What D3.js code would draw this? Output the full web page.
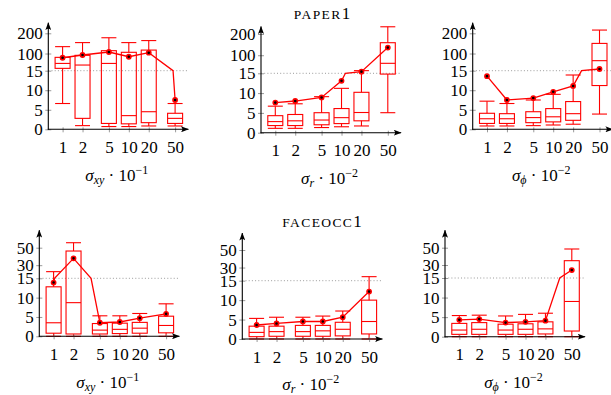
<!DOCTYPE html>
<html>
<head>
<meta charset="utf-8">
<script src="https://cdn.jsdelivr.net/npm/d3@7/dist/d3.min.js"></script>
<style>
  body { margin: 0; background: #fff; }
  svg { display: block; }
  svg text { font-family: "Liberation Serif", "Times New Roman", Times, serif !important; fill: #000; }
</style>
</head>
<body>
<script>
const width = 611;
const height = 395;

// noise levels on the x axis
const xValues = [1, 2, 5, 10, 20, 50];
const topTicks = [0, 5, 10, 15, 100, 200];
const bottomTicks = [0, 5, 10, 15, 30, 50];
const threshold = 15;

// paper1, sigma_xy
const p1Lo = [6.6, 0.94, 0.7, 0.7, 0.85, 0.85];
const p1Q1 = [26.6, 2.8, 1.5, 1.4, 1.7, 1.5];
const p1Med = [51, 43, 51, 3.5, 4.5, 2.8];
const p1Q3 = [81, 91, 114, 106, 117, 4.1];
const p1Hi = [134, 154, 178, 154, 164, 6.6];
const p1Mean = [79, 92.6, 107.5, 84, 104, 7.5];

// paper1, sigma_r
const p2Lo = [1.1, 1.1, 1.3, 1.5, 1.7, 5.05];
const p2Q1 = [1.8, 1.8, 2.0, 2.3, 3.0, 14.8];
const p2Med = [2.8, 3.0, 3.2, 3.8, 5.1, 62];
const p2Q3 = [4.3, 4.6, 5.05, 6.1, 10.2, 159];
const p2Hi = [6.7, 7.3, 9.1, 11.2, 27.5, 234];
const p2Mean = [7.6, 8.0, 8.9, 13.1, 22.8, 136];

// paper1, sigma_phi
const p3Lo = [0.85, 0.85, 0.94, 1.1, 1.3, 3.9];
const p3Q1 = [1.5, 1.5, 1.7, 1.9, 2.3, 11.2];
const p3Med = [2.7, 2.7, 3.0, 3.2, 4.0, 64.6];
const p3Q3 = [4.1, 4.0, 4.5, 5.3, 7.1, 150];
const p3Hi = [7.2, 6.6, 7.5, 8.95, 13.9, 216];
const p3Mean = [13.6, 7.5, 8.0, 9.6, 11.1, 23.3];

// faceocc1, sigma_xy
const f1Lo = [0, 0, 0, 0, 0, 0];
const f1Q1 = [0.8, 0.6, 0.6, 0.7, 0.8, 0.9];
const f1Med = [3.5, 8.7, 1.6, 1.8, 2.1, 2.8];
const f1Q3 = [12.8, 46.2, 3.3, 3.4, 3.6, 5.2];
const f1Hi = [22.6, 55.7, 5.3, 5.3, 5.9, 8.4];
const f1Mean = [13.9, 37.8, 3.5, 3.7, 4.7, 5.8];

// faceocc1, sigma_r
const f2Lo = [0, 0, 0, 0, 0, 0];
const f2Q1 = [0.6, 0.7, 0.7, 0.7, 0.8, 1.3];
const f2Med = [1.7, 1.9, 1.9, 2.1, 2.5, 4.5];
const f2Q3 = [3.3, 3.3, 3.5, 3.5, 4.3, 10.0];
const f2Hi = [5.3, 5.6, 5.6, 5.9, 7.2, 19.6];
const f2Mean = [3.6, 4.0, 4.5, 4.5, 5.6, 12.2];

// faceocc1, sigma_phi
const f3Lo = [0, 0, 0, 0, 0, 0];
const f3Q1 = [0.6, 0.6, 0.6, 0.6, 0.7, 1.45];
const f3Med = [1.7, 1.9, 1.7, 1.9, 2.0, 9.0];
const f3Q3 = [3.4, 3.6, 3.2, 3.3, 3.8, 35];
const f3Hi = [5.4, 5.5, 5.3, 5.7, 6.0, 48.5];
const f3Mean = [4.3, 4.5, 3.6, 3.8, 4.1, 24.2];

const panels = [
  { lo: p1Lo, q1: p1Q1, med: p1Med, q3: p1Q3, hi: p1Hi, mean: p1Mean, ticks: topTicks,
    axisX: 48.3, base: 129.3, y15: 70.7, yTop: 33.3, tip: 10.5, sub: "xy", exp: "−1" },
  { lo: p2Lo, q1: p2Q1, med: p2Med, q3: p2Q3, hi: p2Hi, mean: p2Mean, ticks: topTicks,
    axisX: 261, base: 132.7, y15: 73.3, yTop: 34, tip: 7.5, sub: "r", exp: "−2" },
  { lo: p3Lo, q1: p3Q1, med: p3Med, q3: p3Q3, hi: p3Hi, mean: p3Mean, ticks: topTicks,
    axisX: 472.7, base: 129.3, y15: 70.7, yTop: 33.3, tip: 10.5, sub: "ϕ", exp: "−2" },
  { lo: f1Lo, q1: f1Q1, med: f1Med, q3: f1Q3, hi: f1Hi, mean: f1Mean, ticks: bottomTicks,
    axisX: 39.3, base: 336.3, y15: 278.3, yTop: 247.7, tip: 17.5, sub: "xy", exp: "−1" },
  { lo: f2Lo, q1: f2Q1, med: f2Med, q3: f2Q3, hi: f2Hi, mean: f2Mean, ticks: bottomTicks,
    axisX: 242.3, base: 339, y15: 280.7, yTop: 250, tip: 17, sub: "r", exp: "−2" },
  { lo: f3Lo, q1: f3Q1, med: f3Med, q3: f3Q3, hi: f3Hi, mean: f3Mean, ticks: bottomTicks,
    axisX: 445, base: 336.7, y15: 278, yTop: 247.7, tip: 17.5, sub: "ϕ", exp: "−2" }
];

const titles = [
  { text: "paper1", x: 322, y: 19 },
  { text: "faceocc1", x: 322, y: 227.3 }
];

const red = "#ff0000";
const gray = "#9a9a9a";
const serif = "'Liberation Serif', 'Times New Roman', serif";

const svg = d3.select("body").append("svg")
  .attr("width", width)
  .attr("height", height)
  .style("font-family", serif);

svg.append("defs").append("marker")
  .attr("id", "arrow")
  .attr("viewBox", "0 0 8 6")
  .attr("refX", 7.5)
  .attr("refY", 3)
  .attr("markerWidth", 8)
  .attr("markerHeight", 6)
  .attr("markerUnits", "userSpaceOnUse")
  .attr("orient", "auto")
  .append("path")
  .attr("d", "M0,0 Q3,3 0,6 L8,3 Z")
  .attr("fill", "#000");

panels.forEach(p => {
  const g = svg.append("g");
  const cx0 = p.axisX + 14.3;
  const x = d3.scaleLog().domain([1, 50]).range([cx0, cx0 + 112.5]);
  const yMax = p.ticks[p.ticks.length - 1];
  const y = d3.scaleLinear().domain([0, threshold, yMax]).range([p.base, p.y15, p.yTop]);
  const xEnd = x(50) + 13.3;
  const bw = 15;

  // dotted threshold
  g.append("line")
    .attr("x1", p.axisX).attr("x2", xEnd)
    .attr("y1", y(threshold)).attr("y2", y(threshold))
    .attr("stroke", gray)
    .attr("stroke-width", 1)
    .attr("stroke-dasharray", "1,2.2");

  const boxes = xValues.map((v, i) => ({
    v, lo: p.lo[i], q1: p.q1[i], med: p.med[i], q3: p.q3[i], hi: p.hi[i]
  }));

  const box = g.selectAll(".box").data(boxes).enter().append("g")
    .attr("class", "box")
    .attr("stroke", red)
    .attr("stroke-width", 1.1)
    .attr("fill", "none");

  box.append("rect")
    .attr("x", d => x(d.v) - bw / 2)
    .attr("y", d => y(d.q3))
    .attr("width", bw)
    .attr("height", d => y(d.q1) - y(d.q3));

  box.append("line")
    .attr("x1", d => x(d.v) - bw / 2).attr("x2", d => x(d.v) + bw / 2)
    .attr("y1", d => y(d.med)).attr("y2", d => y(d.med));

  // whiskers
  box.append("line")
    .attr("x1", d => x(d.v)).attr("x2", d => x(d.v))
    .attr("y1", d => y(d.q3)).attr("y2", d => y(d.hi));
  box.append("line")
    .attr("x1", d => x(d.v)).attr("x2", d => x(d.v))
    .attr("y1", d => y(d.q1)).attr("y2", d => y(d.lo));
  box.append("line")
    .attr("x1", d => x(d.v) - bw / 2).attr("x2", d => x(d.v) + bw / 2)
    .attr("y1", d => y(d.hi)).attr("y2", d => y(d.hi));
  box.append("line")
    .attr("x1", d => x(d.v) - bw / 2).attr("x2", d => x(d.v) + bw / 2)
    .attr("y1", d => y(d.lo)).attr("y2", d => y(d.lo));

  // mean line, segments straight in data space (log x, linear y),
  // so a bend shows where it passes the scale break
  const pts = [];
  p.mean.forEach((m, i) => {
    pts.push([xValues[i], m]);
    if (i < p.mean.length - 1) {
      const m2 = p.mean[i + 1];
      if ((m - threshold) * (m2 - threshold) < 0) {
        const t = (threshold - m) / (m2 - m);
        const lx = Math.log(xValues[i]) + t * (Math.log(xValues[i + 1]) - Math.log(xValues[i]));
        pts.push([Math.exp(lx), threshold]);
      }
    }
  });

  g.append("path")
    .attr("d", d3.line().x(d => x(d[0])).y(d => y(d[1]))(pts))
    .attr("fill", "none")
    .attr("stroke", red)
    .attr("stroke-width", 1.3);

  g.selectAll(".dot").data(p.mean).enter().append("circle")
    .attr("class", "dot")
    .attr("cx", (d, i) => x(xValues[i]))
    .attr("cy", d => y(d))
    .attr("r", 2.1)
    .attr("fill", "#000")
    .attr("stroke", red)
    .attr("stroke-width", 1.6);

  // y axis
  const yAxis = g.append("g")
    .attr("transform", `translate(${p.axisX},0)`)
    .call(d3.axisLeft(y).tickValues(p.ticks).tickFormat(d3.format("d"))
      .tickSizeInner(3).tickSizeOuter(0).tickPadding(2.5));
  yAxis.attr("font-family", serif);
  yAxis.select(".domain").remove();
  yAxis.selectAll(".tick line").attr("x1", 3).attr("x2", -3).attr("stroke", gray);
  yAxis.selectAll(".tick text").attr("font-size", 17).attr("dy", "0.33em");

  // x axis
  const xAxis = g.append("g")
    .attr("transform", `translate(0,${p.base})`)
    .call(d3.axisBottom(x).tickValues(xValues).tickFormat(d3.format("d"))
      .tickSizeInner(3).tickSizeOuter(0).tickPadding(8.5));
  xAxis.attr("font-family", serif);
  xAxis.select(".domain").remove();
  xAxis.selectAll(".tick line").attr("y1", -2).attr("y2", 3).attr("stroke", gray);
  xAxis.selectAll(".tick text").attr("font-size", 17);

  g.append("line")
    .attr("x1", p.axisX).attr("x2", p.axisX)
    .attr("y1", p.base + 0.5).attr("y2", p.yTop - p.tip)
    .attr("stroke", "#000").attr("stroke-width", 1.1)
    .attr("marker-end", "url(#arrow)");
  g.append("line")
    .attr("x1", p.axisX - 0.5).attr("x2", xEnd)
    .attr("y1", p.base).attr("y2", p.base)
    .attr("stroke", "#000").attr("stroke-width", 1.1)
    .attr("marker-end", "url(#arrow)");

  // axis label: sigma_sub . 10^exp
  const lab = g.append("text")
    .attr("x", p.axisX + 68.5)
    .attr("y", p.base + 51.4)
    .attr("text-anchor", "middle")
    .attr("font-size", 17);
  lab.append("tspan").attr("font-style", "italic").text("σ");
  lab.append("tspan").attr("font-style", "italic").attr("font-size", 12).attr("dy", 3).text(p.sub);
  lab.append("tspan").attr("dy", -3).text(" · 10");
  lab.append("tspan").attr("font-size", 12).attr("dy", -7).text(p.exp);
});

titles.forEach(t => {
  const tx = svg.append("text")
    .attr("x", t.x).attr("y", t.y)
    .attr("text-anchor", "middle");
  const letters = t.text.replace(/[0-9]/g, "");
  const digits = t.text.replace(/[^0-9]/g, "");
  tx.append("tspan").attr("font-size", 13.5).attr("letter-spacing", 1.4).text(letters.toUpperCase());
  tx.append("tspan").attr("font-size", 17).text(digits);
});
</script>
</body>
</html>
